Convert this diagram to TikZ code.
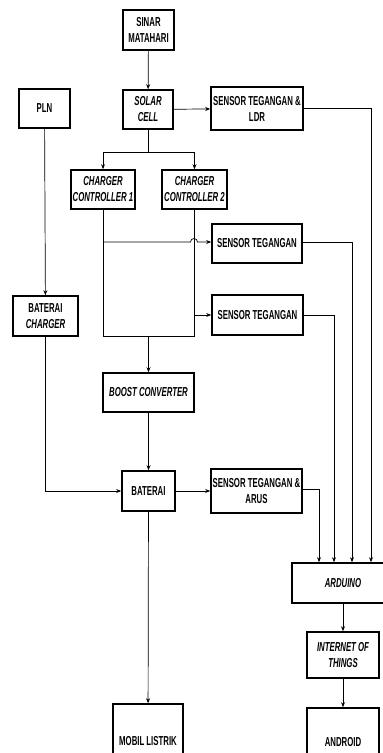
\documentclass[tikz,border=0pt]{standalone}
\usepackage{fontspec}
\setmainfont{Liberation Sans}
\usepackage{graphicx}
\usetikzlibrary{arrows.meta,positioning}

\newcommand{\nt}[1]{\scalebox{0.6}[1]{#1}}

\begin{document}
\begin{tikzpicture}[x=1pt, y=1pt,
  box/.style={draw, line width=1.6pt, align=center, inner sep=0pt,
              font=\fontsize{13}{16}\selectfont\bfseries},
  arr/.style={-{Stealth[length=5pt, width=4pt]}, line width=0.7pt},
  ln/.style={line width=0.7pt},
]
\useasboundingbox (0,0) rectangle (383,-753);
\clip (0,0) rectangle (383,-753);

% Sources
\node[box, minimum width=51, minimum height=40] (sinar) at (148.5,-30) {\nt{SINAR}\\\nt{MATAHARI}};
\node[box, minimum width=50, minimum height=39] (solar) at (148,-109.5) {\nt{\itshape SOLAR}\\\nt{\itshape CELL}};
\node[box, minimum width=92, minimum height=43] (ldr) at (257,-108.5) {\nt{SENSOR TEGANGAN \&}\\\nt{LDR}};
\node[box, minimum width=51, minimum height=39] (pln) at (44.5,-108.5) {\nt{PLN}};

% Charger controllers
\node[box, minimum width=64, minimum height=39] (cc1) at (103,-189.5) {\nt{\itshape CHARGER}\\\nt{\itshape CONTROLLER 1}};
\node[box, minimum width=65, minimum height=39] (cc2) at (194.5,-189.5) {\nt{\itshape CHARGER}\\\nt{\itshape CONTROLLER 2}};

% Sensors
\node[box, minimum width=90, minimum height=39] (st1) at (257,-243.5) {\nt{SENSOR TEGANGAN}};
\node[box, minimum width=91, minimum height=40] (st2) at (257.5,-315) {\nt{SENSOR TEGANGAN}};
\node[box, minimum width=65, minimum height=40] (bchg) at (45.5,-316) {\nt{BATERAI}\\\nt{\itshape CHARGER}};

% Storage
\node[box, minimum width=91, minimum height=39] (boost) at (148.5,-392.5) {\nt{\itshape BOOST CONVERTER}};
\node[box, minimum width=53, minimum height=40] (bat) at (148.5,-491) {\nt{BATERAI}};
\node[box, minimum width=91, minimum height=44] (sta) at (256.5,-491) {\nt{SENSOR TEGANGAN \&}\\\nt{ARUS}};

% Monitoring
\node[box, minimum width=102, minimum height=40] (ard) at (343,-583) {\nt{\itshape ARDUINO}};
\node[box, minimum width=72, minimum height=46] (iot) at (343,-655) {\nt{\itshape INTERNET OF}\\\nt{\itshape THINGS}};
\node[box, minimum width=72, minimum height=68] (andr) at (343,-742) {\nt{ANDROID}};
\node[box, minimum width=70, minimum height=74] (mobil) at (148,-741) {\nt{MOBIL LISTRIK}};

% Junctions
\coordinate (split) at (148,-152);
\coordinate (low) at (103,-336);
\coordinate (hop) at (190.5,-242);

\draw[arr] (sinar) -- (solar);
\draw[arr] (solar) -- (ldr);
\draw[ln] (solar) -- (split);
\draw[arr] (split) -| (cc1.north);
\draw[arr] (split) -| (cc2.north);
\draw[arr] (pln) -- (bchg);

\draw[ln] (cc1.south) -- (low) -| (cc2.south);
\draw[arr] (103,-242) -- (hop) arc (180:0:3.5) -- (st1.west |- hop);
\draw[arr] (cc2.south |- st2.west) -- (st2.west);
\draw[arr] (low -| boost.north) -- (boost);
\draw[arr] (boost) -- (bat);
\draw[arr] (bchg.south) |- (bat.west);
\draw[arr] (bat) -- (sta);
\draw[arr] (bat) -- (mobil);

% To Arduino
\draw[arr] (ldr.east) -| (ard.north -| 371,0);
\draw[arr] (st1.east |- hop) -| (ard.north -| 352,0);
\draw[arr] (st2.east) -| (ard.north -| 334,0);
\draw[arr] (sta.east |- 0,-489) -| (ard.north -| 319,0);

\draw[arr] (ard) -- (iot);
\draw[arr] (iot) -- (andr);
\end{tikzpicture}
\end{document}
